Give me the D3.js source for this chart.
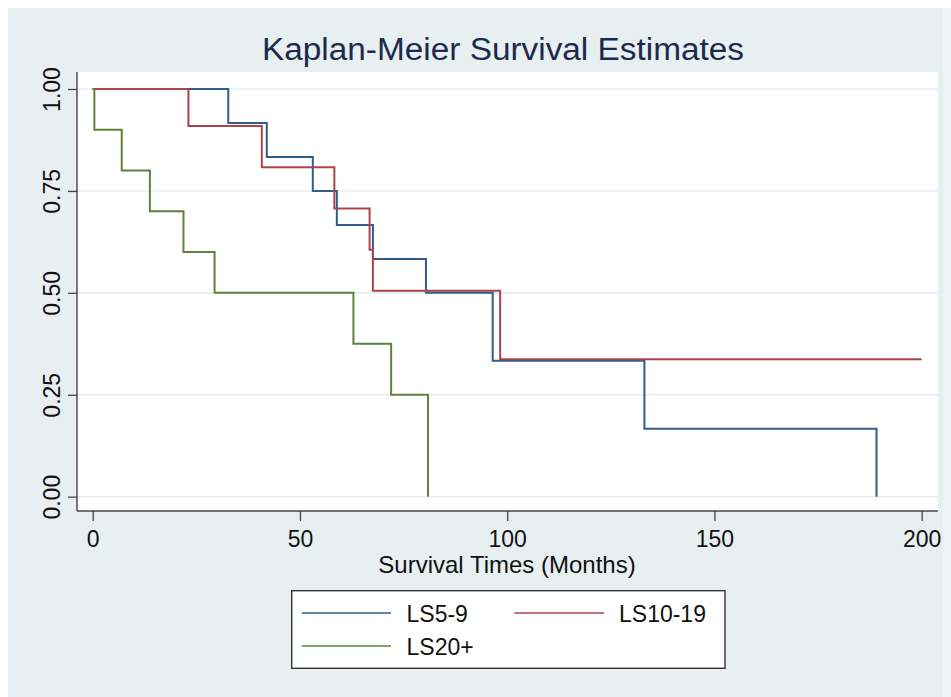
<!DOCTYPE html>
<html>
<head>
<meta charset="utf-8">
<script src="https://cdn.jsdelivr.net/npm/d3@7"></script>
<style>
  html, body { margin: 0; padding: 0; background: #ffffff; }
  svg { display: block; }
  text { font-family: "Liberation Sans", Arial, Helvetica, sans-serif; }
</style>
</head>
<body>
<svg id="chart" width="951" height="697"></svg>
<script>
// ---- data ----
const groups = ["LS5-9", "LS10-19", "LS20+"];
const colors = ["#2f5d8c", "#a9444b", "#5f8238"];

const timesLS5_9 = [0, 32.7, 42.0, 53.1, 58.9, 67.6, 80.4, 96.5, 133.1, 189.1];
const survLS5_9  = [1, 0.9167, 0.8333, 0.75, 0.6667, 0.5833, 0.5, 0.3333, 0.1667, 0];

const timesLS10_19 = [0, 23.1, 40.8, 58.3, 66.8, 67.6, 98.3, 200];
const survLS10_19  = [1, 0.909, 0.808, 0.707, 0.606, 0.505, 0.337, 0.337];

const timesLS20 = [0, 0.4, 7.0, 13.8, 21.9, 29.4, 62.9, 72.0, 80.9];
const survLS20  = [1, 0.9, 0.8, 0.7, 0.6, 0.5, 0.375, 0.25, 0];

const xTicks = [0, 50, 100, 150, 200];
const yTicks = [0, 0.25, 0.5, 0.75, 1];

const titleText = "Kaplan-Meier Survival Estimates";
const xTitle = "Survival Times (Months)";

// ---- layout ----
const svg = d3.select("#chart");
const W = 951, H = 697;
const plot = { left: 77, right: 938, top: 72, bottom: 511 };

// graph region background
svg.append("rect").attr("x", 8).attr("y", 8).attr("width", 935).attr("height", H - 8)
  .attr("fill", "#e8eff1");
svg.append("rect").attr("x", 943).attr("y", 8).attr("width", 8).attr("height", H - 8)
  .attr("fill", "#eef4f5");

// plot region
svg.append("rect").attr("x", plot.left).attr("y", plot.top)
  .attr("width", plot.right - plot.left).attr("height", plot.bottom - plot.top)
  .attr("fill", "#ffffff");

const x = d3.scaleLinear().domain([0, 200]).range([92.7, 921.7]);
const y = d3.scaleLinear().domain([0, 1]).range([496.7, 89]);

// gridlines
svg.append("g").selectAll("line").data(yTicks).join("line")
  .attr("x1", plot.left).attr("x2", plot.right)
  .attr("y1", d => y(d)).attr("y2", d => y(d))
  .attr("stroke", "#e6edef").attr("stroke-width", 1.6);

// survival curves
const series = [
  { times: timesLS5_9, surv: survLS5_9 },
  { times: timesLS10_19, surv: survLS10_19 },
  { times: timesLS20, surv: survLS20 }
];
const line = d3.line().x(d => x(d[0])).y(d => y(d[1])).curve(d3.curveStepAfter);
series.forEach((s, i) => {
  const pts = s.times.map((t, j) => [t, s.surv[j]]);
  svg.append("path").datum(pts)
    .attr("d", line).attr("fill", "none")
    .attr("stroke", colors[i]).attr("stroke-width", 2);
});

// x axis
const xAxis = d3.axisBottom(x).tickValues(xTicks).tickSize(10).tickSizeOuter(0).tickFormat(d3.format("d"));
const gx = svg.append("g").attr("transform", `translate(0,${plot.bottom})`).call(xAxis);
gx.select(".domain").remove();
gx.selectAll(".tick line").attr("stroke", "#444").attr("stroke-width", 1.3);
gx.selectAll(".tick text").attr("y", 0).attr("dy", 0)
  .attr("transform", "translate(0,36)")
  .attr("font-size", 23).attr("fill", "#111")
  .style("font-family", "'Liberation Sans', Arial, sans-serif");
svg.append("line").attr("x1", plot.left).attr("x2", plot.right)
  .attr("y1", plot.bottom).attr("y2", plot.bottom)
  .attr("stroke", "#444").attr("stroke-width", 1.4);

// y axis
const yAxis = d3.axisLeft(y).tickValues(yTicks).tickSize(9).tickSizeOuter(0).tickFormat(d3.format(".2f"));
const gy = svg.append("g").attr("transform", `translate(${plot.left},0)`).call(yAxis);
gy.select(".domain").remove();
gy.selectAll(".tick line").attr("stroke", "#444").attr("stroke-width", 1.3);
gy.selectAll(".tick text").attr("x", 0).attr("y", 0).attr("dy", 0)
  .attr("text-anchor", "middle")
  .attr("transform", "translate(-17,0) rotate(-90)")
  .attr("font-size", 23).attr("fill", "#111")
  .style("font-family", "'Liberation Sans', Arial, sans-serif");
svg.append("line").attr("x1", plot.left).attr("x2", plot.left)
  .attr("y1", plot.top).attr("y2", plot.bottom)
  .attr("stroke", "#444").attr("stroke-width", 1.4);

// title
svg.append("text").attr("x", 503).attr("y", 60)
  .attr("text-anchor", "middle").attr("font-size", 31).attr("fill", "#1d2a4e")
  .attr("textLength", 482).attr("lengthAdjust", "spacingAndGlyphs")
  .text(titleText);

// x axis title
svg.append("text").attr("x", 507).attr("y", 573)
  .attr("text-anchor", "middle").attr("font-size", 24).attr("fill", "#111")
  .text(xTitle);

// legend
const lg = svg.append("g");
lg.append("rect").attr("x", 291.7).attr("y", 590.7).attr("width", 433.3).attr("height", 77.6)
  .attr("fill", "#ffffff").attr("stroke", "#333").attr("stroke-width", 1.4);
const legendPos = [
  { lx1: 301.7, lx2: 391, ly: 613, tx: 406.5 },
  { lx1: 514.3, lx2: 604, ly: 613, tx: 619 },
  { lx1: 301.7, lx2: 391, ly: 646, tx: 406.5 }
];
groups.forEach((g, i) => {
  const p = legendPos[i];
  lg.append("line").attr("x1", p.lx1).attr("x2", p.lx2).attr("y1", p.ly).attr("y2", p.ly)
    .attr("stroke", colors[i]).attr("stroke-width", 1.6);
  lg.append("text").attr("x", p.tx).attr("y", p.ly + 8.5)
    .attr("font-size", 23).attr("fill", "#111").text(g);
});
</script>
</body>
</html>
